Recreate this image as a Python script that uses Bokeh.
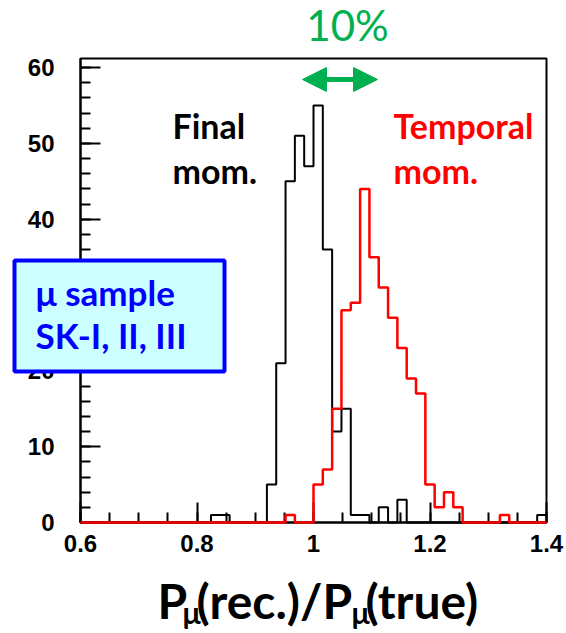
import numpy as np
from bokeh.plotting import figure
from bokeh.models import (Range1d, FixedTicker, CustomJSTickFormatter,
                          Label, Arrow, NormalHead, BoxAnnotation, ColumnDataSource)
from bokeh.embed import file_html
from bokeh.resources import INLINE

# ---------------- data ----------------
x_min, x_max, n_bins = 0.6, 1.4, 50
bin_edges = np.linspace(x_min, x_max, n_bins + 1)

final_mom = [0, 0, 0, 0, 0,   0, 0, 0, 0, 0,
             0, 0, 0, 0, 1,   1, 0, 0, 0, 0,
             5, 21, 45, 51, 47,   55, 36, 12, 15, 1,
             1, 0, 2, 0, 3,   0, 0, 0, 0, 0,
             0, 0, 0, 0, 0,   0, 0, 0, 0, 1]

temporal_mom = [0, 0, 0, 0, 0,   0, 0, 0, 0, 0,
                0, 0, 0, 0, 0,   0, 0, 0, 0, 0,
                0, 0, 1, 0, 0,   5, 7, 15, 28, 29,
                44, 35, 31, 27, 23,   19, 17, 5, 2, 4,
                2, 0, 0, 0, 0,   1, 0, 0, 0, 0]

x_major = [0.6, 0.8, 1.0, 1.2, 1.4]
x_minor = [round(0.6 + 0.05 * i, 2) for i in range(17)]
y_major = [0, 10, 20, 30, 40, 50, 60]
y_minor = list(range(0, 61, 2))

GREEN = "#00B050"
W, H = 566, 633

# ------------- helpers: page pixel -> data coordinate -------------
FL, FR, FT, FB = 80, 546, 58, 522      # visible histogram frame (page px)
Y_MAX = 61.2
BASE_CORR = 0.44                        # label baseline correction (fraction of font size)


def dx(px):
    return x_min + (px - FL) * (x_max - x_min) / (FR - FL)


def dy(py):
    return (FB - py) * Y_MAX / (FB - FT)


# ---------------- figure (frame = whole canvas, axes at fixed locations) ----------------
p = figure(width=W, height=H, output_backend="svg", toolbar_location=None,
           x_range=Range1d(dx(0), dx(W)), y_range=Range1d(dy(H), dy(0)))
p.min_border_left = p.min_border_right = p.min_border_top = p.min_border_bottom = 0
p.grid.visible = False
p.outline_line_color = None
p.background_fill_color = "white"
p.border_fill_color = "white"

# axes drawn at the histogram frame edges
p.xaxis.fixed_location = 0
p.yaxis.fixed_location = x_min
p.xaxis.bounds = (x_min, x_max)
p.yaxis.bounds = (0, Y_MAX)
p.xaxis.ticker = FixedTicker(ticks=x_major, minor_ticks=x_minor)
p.xaxis.formatter = CustomJSTickFormatter(code="return String(Math.round(tick*10)/10);")
p.yaxis.ticker = FixedTicker(ticks=y_major, minor_ticks=y_minor)
for ax in (p.xaxis[0], p.yaxis[0]):
    ax.major_tick_in = 20
    ax.major_tick_out = 0
    ax.minor_tick_in = 10
    ax.minor_tick_out = 0
    ax.major_tick_line_width = 2
    ax.minor_tick_line_width = 2
    ax.axis_line_width = 2
    ax.major_label_text_font = "Liberation Sans"
    ax.major_label_text_font_style = "bold"
    ax.major_label_text_font_size = "24px"
    ax.major_label_text_color = "black"
p.yaxis.major_label_standoff = 26
p.xaxis.major_label_standoff = 12

# frame box
p.add_layout(BoxAnnotation(left=x_min, right=x_max, bottom=0, top=Y_MAX,
                           fill_alpha=0, line_color="black", line_width=2, line_alpha=1.0))

# histograms (drawn above the frame lines, red on top as in the original)
black_src = ColumnDataSource(dict(x=bin_edges, y=final_mom + [final_mom[-1]]))
red_src = ColumnDataSource(dict(x=bin_edges, y=temporal_mom + [temporal_mom[-1]]))
p.step("x", "y", source=black_src, mode="after", line_color="black", line_width=2,
       level="overlay")
p.step("x", "y", source=red_src, mode="after", line_color="#ff0000", line_width=2.5,
       level="overlay")

# ---------------- annotations ----------------
def add_text(px, py, text, color="black", size=34, style="bold", font="Lato", align="left"):
    p.add_layout(Label(x=dx(px), y=dy(py - BASE_CORR * size), text=text, text_color=color,
                       text_font=font, text_font_size=f"{size}px", text_font_style=style,
                       text_align=align, text_baseline="alphabetic"))

add_text(347, 43, "10%", color=GREEN, size=42, style="normal", align="center")
p.add_layout(Arrow(start=NormalHead(size=24, fill_color=GREEN, line_color=GREEN),
                   end=NormalHead(size=24, fill_color=GREEN, line_color=GREEN),
                   x_start=dx(302), x_end=dx(377), y_start=dy(79), y_end=dy(79),
                   line_color=GREEN, line_width=5))

add_text(172, 140, "Final")
add_text(172, 185, "mom.")
add_text(393, 140, "Temporal", color="#ff0000")
add_text(393, 185, "mom.", color="#ff0000")

p.add_layout(BoxAnnotation(left=dx(14), right=dx(224), top=dy(260), bottom=dy(371),
                           fill_color="#ccffff", fill_alpha=1.0,
                           line_color="#0000ff", line_width=4, line_alpha=1.0))
add_text(35, 307, "μ sample", color="#0000ff", size=35)
add_text(35, 350, "SK-I, II, III", color="#0000ff", size=35)

# x-axis title with subscripts
add_text(157, 621, "P", size=48)
add_text(182, 625, "μ", size=30)
add_text(196, 621, "(rec.)/P", size=48)
add_text(351, 625, "μ", size=30)
add_text(365, 621, "(true)", size=48)

open("out.html", "w").write(file_html(p, INLINE))
